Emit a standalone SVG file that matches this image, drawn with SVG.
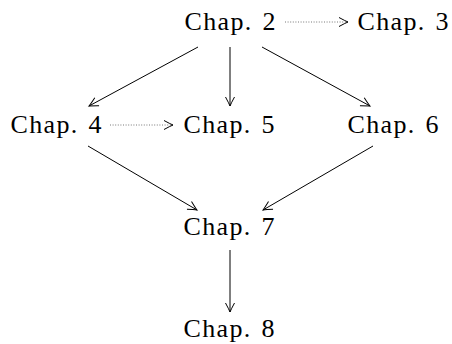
<svg xmlns="http://www.w3.org/2000/svg" width="452" height="344" viewBox="0 0 452 344">
<defs>
<style>
text{font-family:"Liberation Serif","DejaVu Serif",serif;font-size:26px;fill:#000;text-anchor:middle;word-spacing:2px}
.e{fill:none;stroke:#000;stroke-width:1}
.d{fill:none;stroke:#555;stroke-width:0.8;stroke-dasharray:1 1.6}
</style>
<marker id="ah" markerUnits="userSpaceOnUse" markerWidth="14" markerHeight="14" viewBox="-12 -7 14 14" refX="0" refY="0" orient="auto">
<path d="M-9,-4.5 Q-3,-1.2 0,0 Q-3,1.2 -9,4.5" fill="none" stroke="#000" stroke-width="1"/>
</marker>
</defs>
<rect width="452" height="344" fill="#fff"/>
<g id="edges">
<line class="d" x1="285" y1="22" x2="348" y2="22" marker-end="url(#ah)"/>
<line class="d" x1="110" y1="125" x2="173" y2="125" marker-end="url(#ah)"/>
<line class="e" x1="198" y1="47" x2="89" y2="106" marker-end="url(#ah)"/>
<line class="e" x1="230" y1="47" x2="230" y2="106" marker-end="url(#ah)"/>
<line class="e" x1="262" y1="47" x2="370" y2="106" marker-end="url(#ah)"/>
<line class="e" x1="88" y1="146" x2="197" y2="210" marker-end="url(#ah)"/>
<line class="e" x1="373" y1="146" x2="263" y2="210" marker-end="url(#ah)"/>
<line class="e" x1="230" y1="250" x2="230" y2="312" marker-end="url(#ah)"/>
</g>
<g id="n2"><text x="230" y="30" textLength="91" lengthAdjust="spacing">Chap. 2</text></g>
<g id="n3"><text x="403" y="30" textLength="91" lengthAdjust="spacing">Chap. 3</text></g>
<g id="n4"><text x="56" y="133" textLength="91" lengthAdjust="spacing">Chap. 4</text></g>
<g id="n5"><text x="229" y="133" textLength="91" lengthAdjust="spacing">Chap. 5</text></g>
<g id="n6"><text x="393" y="133" textLength="91" lengthAdjust="spacing">Chap. 6</text></g>
<g id="n7"><text x="229" y="235" textLength="91" lengthAdjust="spacing">Chap. 7</text></g>
<g id="n8"><text x="229" y="337" textLength="91" lengthAdjust="spacing">Chap. 8</text></g>
</svg>
